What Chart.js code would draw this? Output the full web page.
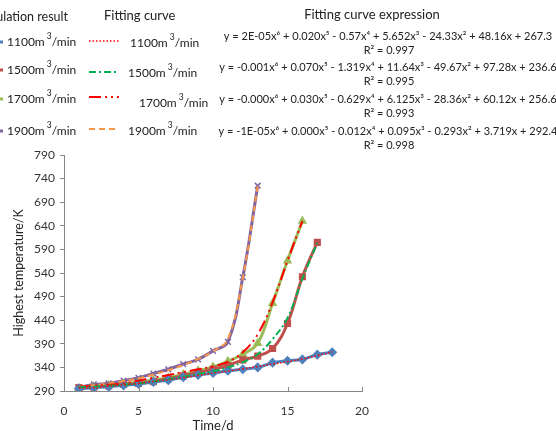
<!DOCTYPE html>
<html>
<head>
<meta charset="utf-8">
<script src="https://cdn.jsdelivr.net/npm/chart.js@4.4.0/dist/chart.umd.min.js"></script>
<style>
  html, body { margin: 0; padding: 0; background: #fff; }
  #wrap { width: 556px; height: 431px; }
</style>
</head>
<body>
<div id="wrap"><canvas id="chart" width="556" height="431"></canvas></div>
<script>
// Simulation result
const days1100 = [1, 2, 3, 4, 5, 6, 7, 8, 9, 10, 11, 12, 13, 14, 15, 16, 17, 18];
const sim1100 = [295, 297, 299, 302, 305, 309, 313, 319, 324, 328, 333, 336, 340, 350, 354, 357, 367, 372];
const days1500 = [1, 2, 3, 4, 5, 6, 7, 8, 9, 10, 11, 12, 13, 14, 15, 16, 17];
const sim1500 = [297, 298, 301, 304, 306, 310, 316, 322, 329, 336, 344, 356, 364, 380, 433, 532, 605];
const days1700 = [1, 2, 3, 4, 5, 6, 7, 8, 9, 10, 11, 12, 13, 14, 15, 16];
const sim1700 = [296, 299, 302, 305, 309, 313, 318, 325, 333, 341, 353, 368, 391, 476, 566, 650];
const days1900 = [1, 2, 3, 4, 5, 6, 7, 8, 9, 10, 11, 12, 13];
const sim1900 = [298, 304, 306, 312, 318, 327, 336, 347, 357, 375, 394, 531, 725];

// Fitting curves
const fit1100 = [296, 297, 300, 303, 306, 310, 314, 318, 323, 328, 332, 337, 342, 347, 352, 358, 365, 373];
const fit1500 = [298, 299, 301, 303, 306, 310, 315, 320, 326, 332, 340, 351, 368, 400, 445, 528, 604];
const fit1700 = [299, 301, 303, 306, 312, 318, 324, 330, 336, 342, 352, 372, 410, 478, 566, 650];
const fit1900 = [299, 302, 306, 311, 317, 325, 334, 345, 358, 374, 400, 530, 724];

const flowLabels = ['1100', '1500', '1700', '1900'];
const expressions = [
    'y = 2E-05x\u2076 + 0.020x\u2075 - 0.57x\u2074 + 5.652x\u00b3 - 24.33x\u00b2 + 48.16x + 267.3',
    'y = -0.001x\u2076 + 0.070x\u2075 - 1.319x\u2074 + 11.64x\u00b3 - 49.67x\u00b2 + 97.28x + 236.6',
    'y = -0.000x\u2076 + 0.030x\u2075 - 0.629x\u2074 + 6.125x\u00b3 - 28.36x\u00b2 + 60.12x + 256.6',
    'y = -1E-05x\u2076 + 0.000x\u2075 - 0.012x\u2074 + 0.095x\u00b3 - 0.293x\u00b2 + 3.719x + 292.4'
];
const rSquared = ['0.997', '0.995', '0.993', '0.998'];

const xTicks = [0, 5, 10, 15, 20];

const FONT = "Lato, 'Noto Sans', 'DejaVu Sans', sans-serif";

function pts(xs, ys) {
    return xs.map((x, i) => ({ x: x, y: ys[i] }));
}

function simSet(label, xs, ys, color, marker) {
    return {
        label: label, data: pts(xs, ys), kind: 'sim',
        borderColor: color, backgroundColor: color,
        borderWidth: 3, tension: 0.4, order: 2,
        pointStyle: marker,
        pointRadius: 4, pointBorderColor: color, pointBorderWidth: 1.5
    };
}

function fitSet(label, xs, ys, color, dash, width) {
    return {
        label: label, data: pts(xs, ys), kind: 'fit',
        borderColor: color, borderWidth: width, borderDash: dash,
        tension: 0.4, order: 1, pointRadius: 0
    };
}

const datasets = [
    simSet('1100', days1100, sim1100, '#4F81BD', 'rectRot'),
    simSet('1500', days1500, sim1500, '#C0504D', 'rect'),
    simSet('1700', days1700, sim1700, '#9BBB59', 'triangle'),
    simSet('1900', days1900, sim1900, '#8064A2', 'crossRot'),
    fitSet('1100', days1100, fit1100, '#FF0000', [1.5, 2], 1.5),
    fitSet('1500', days1500, fit1500, '#00B050', [7, 3, 2, 3], 2),
    fitSet('1700', days1700, fit1700, '#FF0000', [12, 4, 2, 4, 2, 4], 2),
    fitSet('1900', days1900, fit1900, '#F79646', [6, 4], 2)
];

// draws "1100m³/min" with a raised 3
function drawUnit(ctx, text, x, y) {
    ctx.font = '12px ' + FONT;
    ctx.textAlign = 'left';
    ctx.textBaseline = 'middle';
    const a = text + 'm ';
    ctx.fillText(a, x, y);
    let w = ctx.measureText(a).width - 1;
    ctx.font = '8.5px ' + FONT;
    ctx.fillText('3', x + w, y - 6);
    w += ctx.measureText('3').width;
    ctx.font = '12px ' + FONT;
    ctx.fillText('/min', x + w, y);
}

const legendPlugin = {
    id: 'sideLegend',
    afterDraw(chart) {
        const ctx = chart.ctx;
        const xs = chart.scales.x;
        ctx.save();

        // inward x ticks
        ctx.strokeStyle = '#868686';
        ctx.lineWidth = 1;
        xs.ticks.forEach(t => {
            const px = Math.round(xs.getPixelForValue(t.value)) + 0.5;
            ctx.beginPath();
            ctx.moveTo(px, xs.top);
            ctx.lineTo(px, xs.top - 4);
            ctx.stroke();
        });

        ctx.fillStyle = '#222';
        ctx.textBaseline = 'middle';
        ctx.font = '12.5px ' + FONT;
        ctx.textAlign = 'right';
        ctx.fillText('Simulation result', 68, 17);
        ctx.font = '13px ' + FONT;
        ctx.textAlign = 'left';
        ctx.fillText('Fitting curve', 104, 16);
        ctx.textAlign = 'center';
        ctx.fillText('Fitting curve expression', 372, 15);

        const simRows = [42, 70, 99, 131];
        const fitSampleRows = [41, 72, 97, 129];
        const fitTextRows = [43, 73, 103, 131];
        const fitTextX = [130, 128, 139, 128];
        const eqRows = [36, 67, 99, 131];

        chart.data.datasets.forEach(ds => {
            const i = flowLabels.indexOf(ds.label);
            if (ds.kind === 'sim') {
                const y = simRows[i];
                ctx.strokeStyle = ds.borderColor;
                ctx.lineWidth = 3;
                ctx.setLineDash([]);
                ctx.beginPath();
                ctx.moveTo(-12, y);
                ctx.lineTo(3, y);
                ctx.stroke();
                ctx.fillStyle = '#222';
                drawUnit(ctx, ds.label, 7, y);
            } else {
                const y = fitSampleRows[i];
                ctx.strokeStyle = ds.borderColor;
                ctx.lineWidth = ds.borderWidth;
                ctx.setLineDash(ds.borderDash);
                ctx.beginPath();
                ctx.moveTo(89, y);
                ctx.lineTo(119, y);
                ctx.stroke();
                ctx.setLineDash([]);
                ctx.fillStyle = '#222';
                drawUnit(ctx, ds.label, fitTextX[i], fitTextRows[i]);
            }
        });

        ctx.fillStyle = '#222';
        ctx.textAlign = 'center';
        expressions.forEach((e, i) => {
            ctx.font = '11px ' + FONT;
            ctx.fillText(e, 388, eqRows[i]);
            ctx.fillText('R\u00b2 = ' + rSquared[i], 389, eqRows[i] + 14);
        });
        ctx.restore();
    }
};

new Chart(document.getElementById('chart'), {
    type: 'line',
    data: { datasets: datasets },
    options: {
        responsive: false,
        animation: false,
        layout: { padding: { left: 0, right: 194, top: 155, bottom: 0 } },
        plugins: {
            legend: { display: false },
            tooltip: { enabled: false }
        },
        scales: {
            x: {
                type: 'linear', min: 0, max: 20,
                afterBuildTicks: s => { s.ticks = xTicks.map(v => ({ value: v })); },
                afterFit: s => { s.height = 40; },
                grid: { display: false },
                border: { display: true, color: '#868686', width: 1 },
                ticks: { color: '#333', font: { family: FONT, size: 12 }, padding: 5 },
                title: { display: true, text: 'Time/d', color: '#222', font: { family: FONT, size: 13 }, padding: { top: -3, bottom: -3 } }
            },
            y: {
                min: 290, max: 790,
                ticks: { stepSize: 50, color: '#333', font: { family: FONT, size: 12 }, padding: 5 },
                afterFit: s => { s.width = 64; },
                grid: { drawOnChartArea: false, drawTicks: true, tickLength: 4, color: '#868686' },
                border: { display: true, color: '#868686', width: 1 },
                title: { display: true, text: 'Highest temperature/K', color: '#222', font: { family: FONT, size: 12.5 }, padding: { top: 11, bottom: 0 } }
            }
        }
    },
    plugins: [legendPlugin]
});
</script>
</body>
</html>
